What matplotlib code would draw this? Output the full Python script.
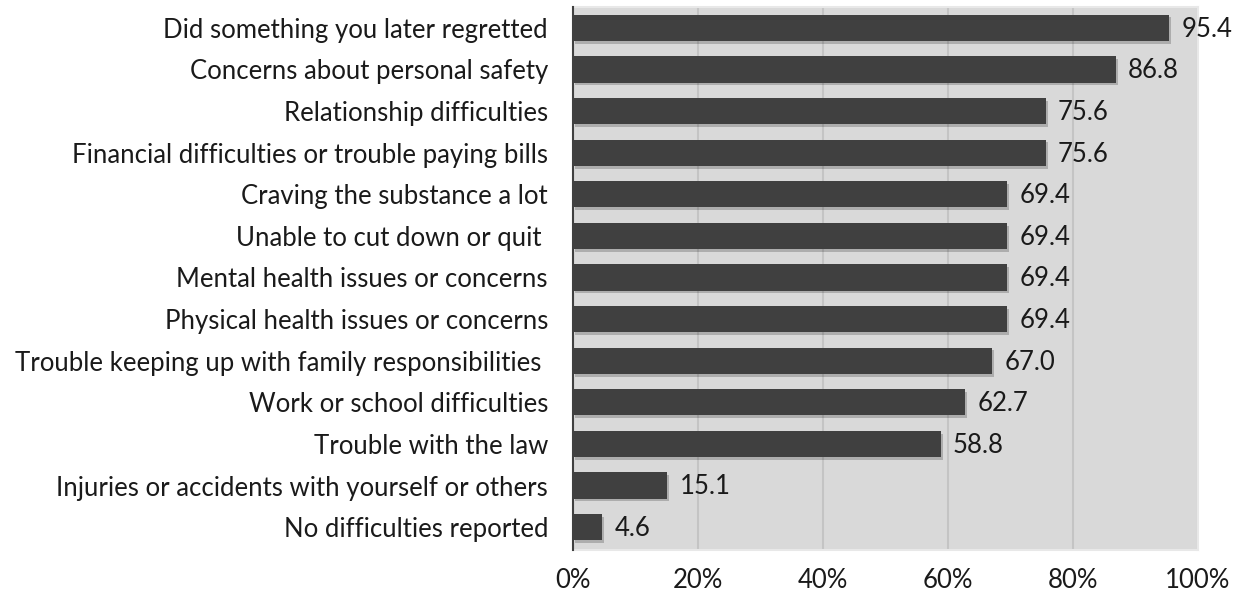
import matplotlib
matplotlib.use("Agg")
import matplotlib.pyplot as plt
import matplotlib.patheffects as pe

categories = [
    "Did something you later regretted",
    "Concerns about personal safety",
    "Relationship difficulties",
    "Financial difficulties or trouble paying bills",
    "Craving the substance a lot",
    "Unable to cut down or quit ",
    "Mental health issues or concerns",
    "Physical health issues or concerns",
    "Trouble keeping up with family responsibilities ",
    "Work or school difficulties",
    "Trouble with the law",
    "Injuries or accidents with yourself or others",
    "No difficulties reported",
]
values = [95.4, 86.8, 75.6, 75.6, 69.4, 69.4, 69.4, 69.4, 67.0, 62.7, 58.8, 15.1, 4.6]
xticks = [0, 20, 40, 60, 80, 100]
xtick_labels = ["0%", "20%", "40%", "60%", "80%", "100%"]

plt.rcParams['font.family'] = ['Lato', 'DejaVu Sans']

fig = plt.figure(figsize=(12.42, 5.94), dpi=100)
ax = fig.add_axes([573 / 1242, 1 - 550 / 594, 625 / 1242, 543 / 594])
ax.set_facecolor('#d9d9d9')

y = list(range(len(categories)))
bars = ax.barh(y, values, height=0.63, color='#404040', zorder=3)
for b in bars:
    b.set_path_effects([pe.SimplePatchShadow(offset=(1.5, -2), shadow_rgbFace='black', alpha=0.2),
                        pe.Normal()])

for yi, v in zip(y, values):
    ax.annotate(f"{v:.1f}", (v, yi), xytext=(9, -1), textcoords='offset points',
                va='center', ha='left', fontsize=18.5, color='#1a1a1a')

ax.set_xlim(0, 100)
ax.set_ylim(12.55, -0.5)
ax.set_yticks(y)
ax.set_yticklabels(categories, fontsize=18.5, color='#1a1a1a')
ax.set_xticks(xticks)
ax.set_xticklabels(xtick_labels, fontsize=18.5, color='#1a1a1a')
ax.tick_params(axis='both', length=0)
ax.tick_params(axis='x', pad=13)
ax.tick_params(axis='y', pad=18)

ax.grid(axis='x', color='#c4c4c4', linewidth=1.5, zorder=1)
ax.set_axisbelow(True)
for s in ['top', 'right', 'bottom']:
    ax.spines[s].set_color('#e8e8e8')
    ax.spines[s].set_linewidth(1.5)
ax.spines['left'].set_color('#404040')
ax.spines['left'].set_linewidth(1.5)
ax.spines['left'].set_zorder(4)

fig.savefig("out.png", dpi=100)
